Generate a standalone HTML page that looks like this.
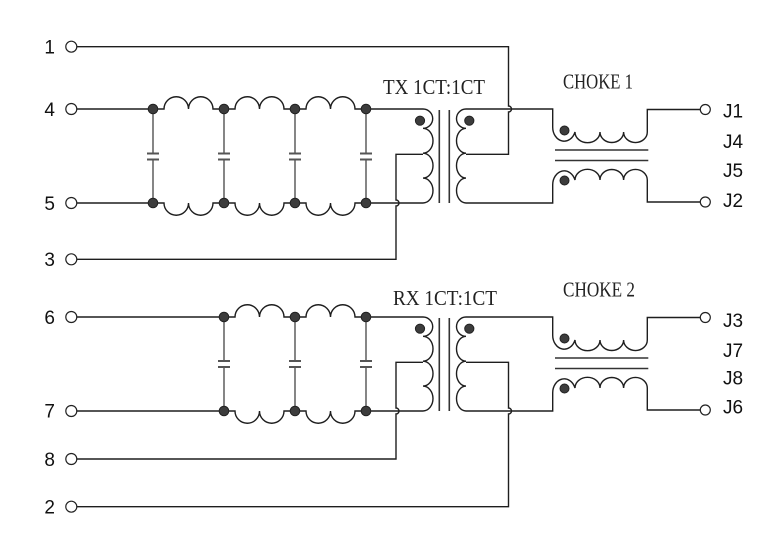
<!DOCTYPE html>
<html>
<head>
<meta charset="utf-8">
<style>
html,body{margin:0;padding:0;background:#fff;}
svg{display:block;}
.w{fill:none;stroke:#1e1e1e;stroke-width:1.4;}
.c{fill:none;stroke:#444;stroke-width:1.3;}
.p{fill:none;stroke:#555;stroke-width:2;}
.k{fill:none;stroke:#333;stroke-width:1.6;}
.d{fill:#3c3c3c;stroke:#222;stroke-width:1;}
.pin{fill:#fff;stroke:#222;stroke-width:1.2;}
.lbl{font-family:"Liberation Sans",Arial,sans-serif;font-size:19px;fill:#111;}
.ser{font-family:"Liberation Serif","Times New Roman",serif;font-size:21px;fill:#222;}
</style>
</head>
<body>
<svg width="759" height="550" viewBox="0 0 759 550" xmlns="http://www.w3.org/2000/svg">
<!-- ========== LEFT PIN LABELS ========== -->
<text class="lbl" x="55" y="53.5" text-anchor="end">1</text>
<text class="lbl" x="55" y="116" text-anchor="end">4</text>
<text class="lbl" x="55" y="210" text-anchor="end">5</text>
<text class="lbl" x="55" y="266" text-anchor="end">3</text>
<text class="lbl" x="55" y="324" text-anchor="end">6</text>
<text class="lbl" x="55" y="417.5" text-anchor="end">7</text>
<text class="lbl" x="55" y="466" text-anchor="end">8</text>
<text class="lbl" x="55" y="513.5" text-anchor="end">2</text>

<!-- ========== RIGHT PIN LABELS ========== -->
<text class="lbl" x="723" y="117.5">J1</text>
<text class="lbl" x="723" y="148">J4</text>
<text class="lbl" x="723" y="177">J5</text>
<text class="lbl" x="723" y="207">J2</text>
<text class="lbl" x="723" y="327">J3</text>
<text class="lbl" x="723" y="357">J7</text>
<text class="lbl" x="723" y="384.5">J8</text>
<text class="lbl" x="723" y="413.5">J6</text>

<!-- ========== TITLES ========== -->
<text class="ser" x="383" y="94" textLength="102" lengthAdjust="spacingAndGlyphs">TX 1CT:1CT</text>
<text class="ser" x="563" y="88.5" textLength="70" lengthAdjust="spacingAndGlyphs">CHOKE 1</text>
<text class="ser" x="393" y="305" textLength="104" lengthAdjust="spacingAndGlyphs">RX 1CT:1CT</text>
<text class="ser" x="563" y="296.5" textLength="72" lengthAdjust="spacingAndGlyphs">CHOKE 2</text>

<!-- ========== TX FILTER ========== -->
<path class="w" d="M76.8 109 H153
 M153 109 H164 A12.25 12.25 0 0 1 188.5 109 A12.25 12.25 0 0 1 213 109 H224
 M224 109 H235 A12.25 12.25 0 0 1 259.5 109 A12.25 12.25 0 0 1 284 109 H295
 M295 109 H306 A12.25 12.25 0 0 1 330.5 109 A12.25 12.25 0 0 1 355 109 H366
 H423"/>
<path class="w" d="M76.8 203 H153
 M153 203 H164 A12.25 12.25 0 0 0 188.5 203 A12.25 12.25 0 0 0 213 203 H224
 M224 203 H235 A12.25 12.25 0 0 0 259.5 203 A12.25 12.25 0 0 0 284 203 H295
 M295 203 H306 A12.25 12.25 0 0 0 330.5 203 A12.25 12.25 0 0 0 355 203 H366
 H423"/>
<g>
 <path class="c" d="M153 109 V153.5 M153 159.5 V203"/>
 <path class="p" d="M147 153.5 H159 M147 159.5 H159"/>
 <path class="c" d="M224 109 V153.5 M224 159.5 V203"/>
 <path class="p" d="M218 153.5 H230 M218 159.5 H230"/>
 <path class="c" d="M295 109 V153.5 M295 159.5 V203"/>
 <path class="p" d="M289 153.5 H301 M289 159.5 H301"/>
 <path class="c" d="M366 109 V153.5 M366 159.5 V203"/>
 <path class="p" d="M360 153.5 H372 M360 159.5 H372"/>
</g>
<circle class="d" cx="153" cy="109" r="4.8"/>
<circle class="d" cx="224" cy="109" r="4.8"/>
<circle class="d" cx="295" cy="109" r="4.8"/>
<circle class="d" cx="366" cy="109" r="4.8"/>
<circle class="d" cx="153" cy="203" r="4.8"/>
<circle class="d" cx="224" cy="203" r="4.8"/>
<circle class="d" cx="295" cy="203" r="4.8"/>
<circle class="d" cx="366" cy="203" r="4.8"/>

<path class="w" d="M76.8 259.3 H396 V206 A3 3 0 0 0 396 200 V154.3 H423"/>
<path class="w" d="M76.8 46.7 H508.5 V106 A3 3 0 0 1 508.5 112 V154.3 H466"/>

<g id="xfmr">
 <path class="w" d="M423 109 A9.7 9.65 0 0 1 423 128.3 A10 12.45 0 0 1 423 153.2 A10 12.45 0 0 1 423 178.1 A10 12.45 0 0 1 423 203"/>
 <circle class="d" cx="420" cy="120.7" r="4.6"/>
 <path class="k" d="M439.3 110 V203 M449.3 110 V203"/>
 <path class="w" d="M466 109 A9.5 9.65 0 0 0 466 128.3 A9.5 12.45 0 0 0 466 153.2 A9.5 12.45 0 0 0 466 178.1 A9.5 12.45 0 0 0 466 203"/>
 <circle class="d" cx="469.3" cy="120.7" r="4.6"/>
 <path class="w" d="M466 109 H552.7 V127"/>
 <path class="w" d="M466 203 H552.7 V185"/>
 <path class="w" d="M552.7 127 A11.5 14 0 0 0 575 132 A12.3 10.5 0 0 0 600 132 A11.8 10.5 0 0 0 623.6 132 A11.8 10.5 0 0 0 647.3 132 V109.5 H700"/>
 <circle class="d" cx="564.5" cy="130.5" r="4.5"/>
 <path class="k" d="M555 150 H648.3 M555 160.5 H648.3"/>
 <path class="w" d="M552.7 185 A11.5 14 0 0 1 575 180 A12.3 10.5 0 0 1 600 180 A11.8 10.5 0 0 1 623.6 180 A11.8 10.5 0 0 1 647.3 180 V202 H700"/>
 <circle class="d" cx="564.5" cy="180.5" r="4.5"/>
 <circle class="pin" cx="705.3" cy="109.5" r="5"/>
 <circle class="pin" cx="705.3" cy="202" r="5"/>
</g>

<circle class="pin" cx="71.3" cy="46.7" r="5.5"/>
<circle class="pin" cx="71.3" cy="109" r="5.5"/>
<circle class="pin" cx="71.3" cy="203" r="5.5"/>
<circle class="pin" cx="71.3" cy="259.3" r="5.5"/>

<!-- ========== RX FILTER ========== -->
<path class="w" d="M76.8 317 H224
 M224 317 H235 A12.25 12.25 0 0 1 259.5 317 A12.25 12.25 0 0 1 284 317 H295
 M295 317 H306 A12.25 12.25 0 0 1 330.5 317 A12.25 12.25 0 0 1 355 317 H366
 H423"/>
<path class="w" d="M76.8 411 H224
 M224 411 H235 A12.25 12.25 0 0 0 259.5 411 A12.25 12.25 0 0 0 284 411 H295
 M295 411 H306 A12.25 12.25 0 0 0 330.5 411 A12.25 12.25 0 0 0 355 411 H366
 H423"/>
<g>
 <path class="c" d="M224 317 V361 M224 367 V411"/>
 <path class="p" d="M218 361 H230 M218 367 H230"/>
 <path class="c" d="M295 317 V361 M295 367 V411"/>
 <path class="p" d="M289 361 H301 M289 367 H301"/>
 <path class="c" d="M366 317 V361 M366 367 V411"/>
 <path class="p" d="M360 361 H372 M360 367 H372"/>
</g>
<circle class="d" cx="224" cy="317" r="4.8"/>
<circle class="d" cx="295" cy="317" r="4.8"/>
<circle class="d" cx="366" cy="317" r="4.8"/>
<circle class="d" cx="224" cy="411" r="4.8"/>
<circle class="d" cx="295" cy="411" r="4.8"/>
<circle class="d" cx="366" cy="411" r="4.8"/>

<path class="w" d="M76.8 459 H396 V414 A3 3 0 0 0 396 408 V362.3 H423"/>
<path class="w" d="M76.8 506.7 H508.5 V414 A3 3 0 0 0 508.5 408 V362.3 H466"/>

<use href="#xfmr" transform="translate(0,208)"/>

<circle class="pin" cx="71.3" cy="317" r="5.5"/>
<circle class="pin" cx="71.3" cy="411" r="5.5"/>
<circle class="pin" cx="71.3" cy="459" r="5.5"/>
<circle class="pin" cx="71.3" cy="506.7" r="5.5"/>
</svg>
</body>
</html>
